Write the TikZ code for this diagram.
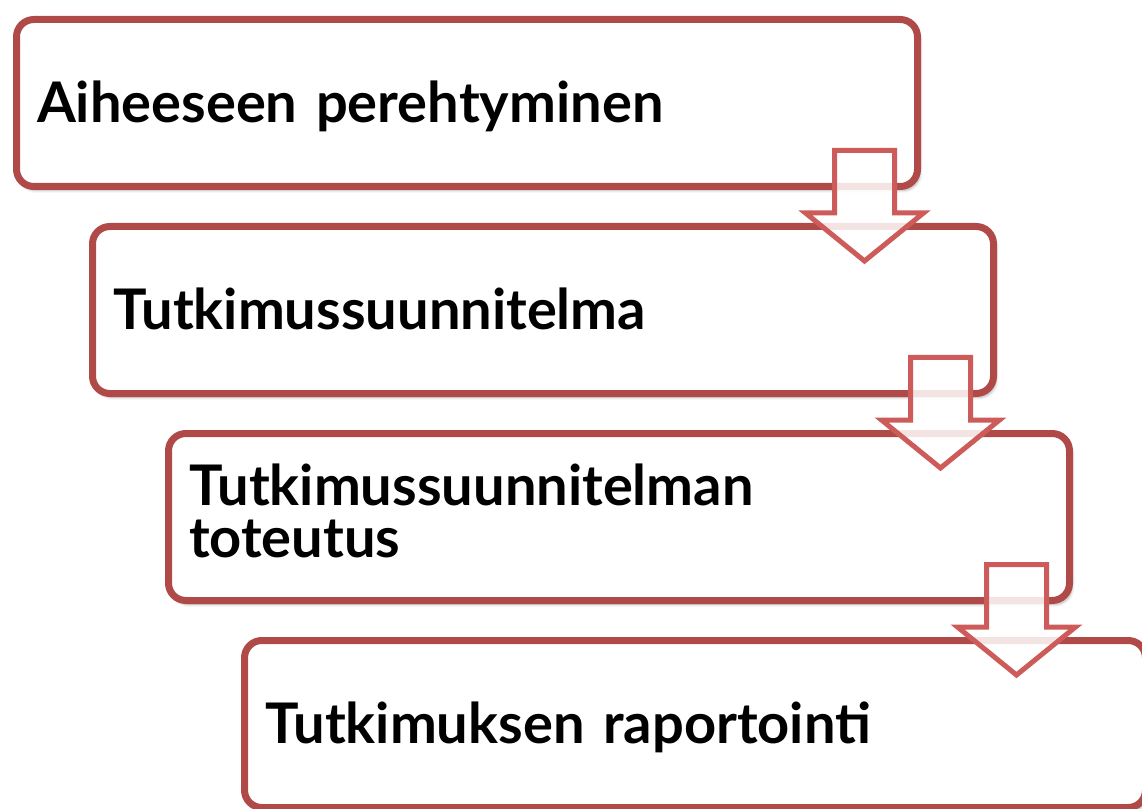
\documentclass[tikz,border=0pt]{standalone}
\usepackage{fontspec}
\setmainfont{Lato}
\usetikzlibrary{calc,shadows.blur}
\definecolor{boxred}{HTML}{B04A48}
\definecolor{arrowred}{HTML}{CC5B59}

\tikzset{
  stepbox/.style={draw=boxred, line width=5.25pt, fill=white, rounded corners=13pt,
    minimum width=675.75pt, minimum height=125.25pt, text width=645pt, align=left,
    inner xsep=15pt, text depth=1.5pt, font=\fontsize{42}{39}\selectfont\bfseries,
    blur shadow={shadow xshift=2pt, shadow yshift=-3pt, shadow blur steps=6, shadow opacity=30}},
  downarrow/.style={draw=arrowred, line width=3.75pt, fill=white, fill opacity=0.85, line join=miter}
}

\begin{document}
\begin{tikzpicture}[x=0.75pt, y=0.75pt]
  \useasboundingbox (0,0) rectangle (1142,808);
  \clip (0,0) rectangle (1142,808);

  % staircase of steps
  \node[stepbox] (s1) at (467,705) {Aiheeseen perehtyminen};
  \node[stepbox] (s2) at ($(s1)+(76,-207)$) {Tutkimussuunnitelma};
  \node[stepbox, text depth=48.75pt] (s3) at ($(s2)+(76,-207)$) {Tutkimussuunnitelman\\toteutus};
  \node[stepbox] (s4) at ($(s3)+(76,-207)$) {Tutkimuksen raportointi};

  % block arrows between the steps
  \foreach \i in {1,2,3}{
    \coordinate (a\i) at ($(s\i.south east)+(-56.5,39.5)$);
    \draw[downarrow] (a\i) ++(-30,0) -- ++(0,-62.5) -- ++(-29,0) -- ++(59,-48)
      -- ++(59,48) -- ++(-29,0) -- ++(0,62.5) -- cycle;
  }
\end{tikzpicture}
\end{document}
